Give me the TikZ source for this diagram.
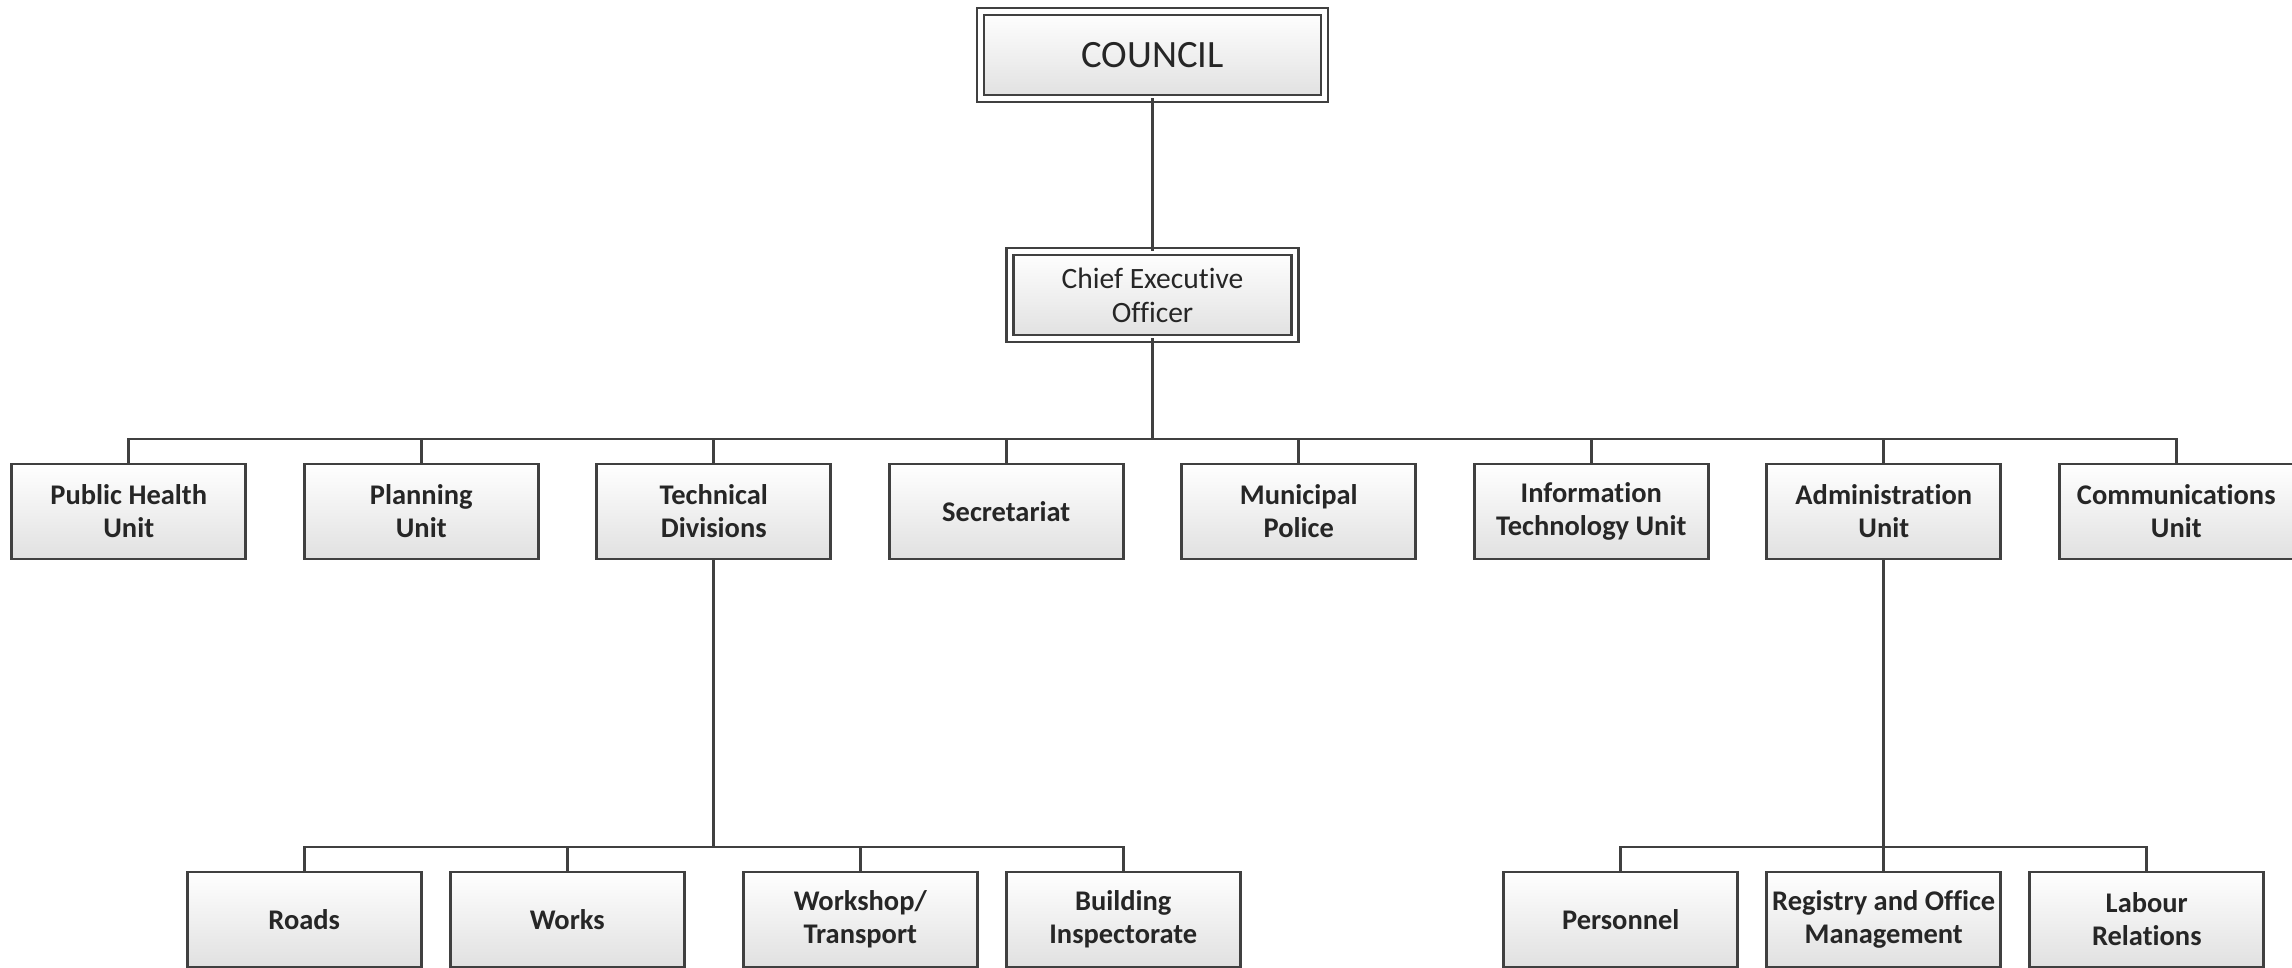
\documentclass[tikz,border=0pt]{standalone}
\usepackage{fontspec}
\setmainfont{Carlito}[Ligatures={NoCommon}]
\usetikzlibrary{positioning}

\definecolor{boxline}{HTML}{404040}
\definecolor{boxtext}{HTML}{262626}

\begin{document}
\begin{tikzpicture}[
		node distance=5.85mm,
		unit/.style={rectangle, draw=boxline, line width=0.8pt, top color=white, bottom color=black!12, minimum width=2.34cm, minimum height=0.95cm, outer sep=0pt, inner sep=1pt, align=center, text=boxtext, font=\fontsize{8.1}{9.4}\selectfont\bfseries},
		head/.style={unit, double=white, double distance=1.4pt, line width=0.6pt, minimum height=0.87cm, font=\fontsize{8.4}{9.6}\selectfont},
		link/.style={draw=boxline, line width=0.8pt}
		]
		\useasboundingbox (0,0) rectangle (22.92,-9.68);
		
		% Top
		\node (council) [head, minimum width=3.44cm, font=\fontsize{11}{13}\selectfont] at (11.525,-0.55) {COUNCIL};
		\node (ceo) [head, minimum width=2.85cm, below=1.53cm of council] {Chief Executive\\Officer};
		
		% Units
		\node (sec) [unit, below=1.255cm of ceo, xshift=-1.4625cm] {Secretariat};
		\node (tech) [unit, left=of sec] {Technical\\Divisions};
		\node (plan) [unit, left=of tech] {Planning\\Unit};
		\node (pub) [unit, left=of plan] {Public Health\\Unit};
		\node (pol) [unit, right=of sec] {Municipal\\Police};
		\node (it) [unit, right=of pol] {Information\\Technology Unit};
		\node (adm) [unit, right=of it] {Administration\\Unit};
		\node (com) [unit, right=of adm] {Communications\\Unit};
		
		% Technical divisions
		\node (works) [unit, below=3.13cm of tech, xshift=-1.465cm] {Works};
		\node (shop) [unit, below=3.13cm of tech, xshift=1.465cm] {Workshop/\\Transport};
		\node (roads) [unit, left=2.9mm of works] {Roads};
		\node (insp) [unit, right=2.9mm of shop] {Building\\Inspectorate};
		
		% Administration
		\node (reg) [unit, below=3.13cm of adm] {Registry and Office\\Management};
		\node (pers) [unit, left=2.9mm of reg] {Personnel};
		\node (lab) [unit, right=2.9mm of reg] {Labour\\Relations};
		
		% Lines
		\draw [link] (council) -- (ceo);
		\foreach \u in {pub, plan, tech, sec, pol, it, adm, com}
			\draw [link] (ceo.south) -- ++(0,-1.005) -| (\u.north);
		\foreach \u in {roads, works, shop, insp}
			\draw [link] (tech.south) -- ++(0,-2.88) -| (\u.north);
		\foreach \u in {pers, reg, lab}
			\draw [link] (adm.south) -- ++(0,-2.88) -| (\u.north);
		
	\end{tikzpicture}
\end{document}
